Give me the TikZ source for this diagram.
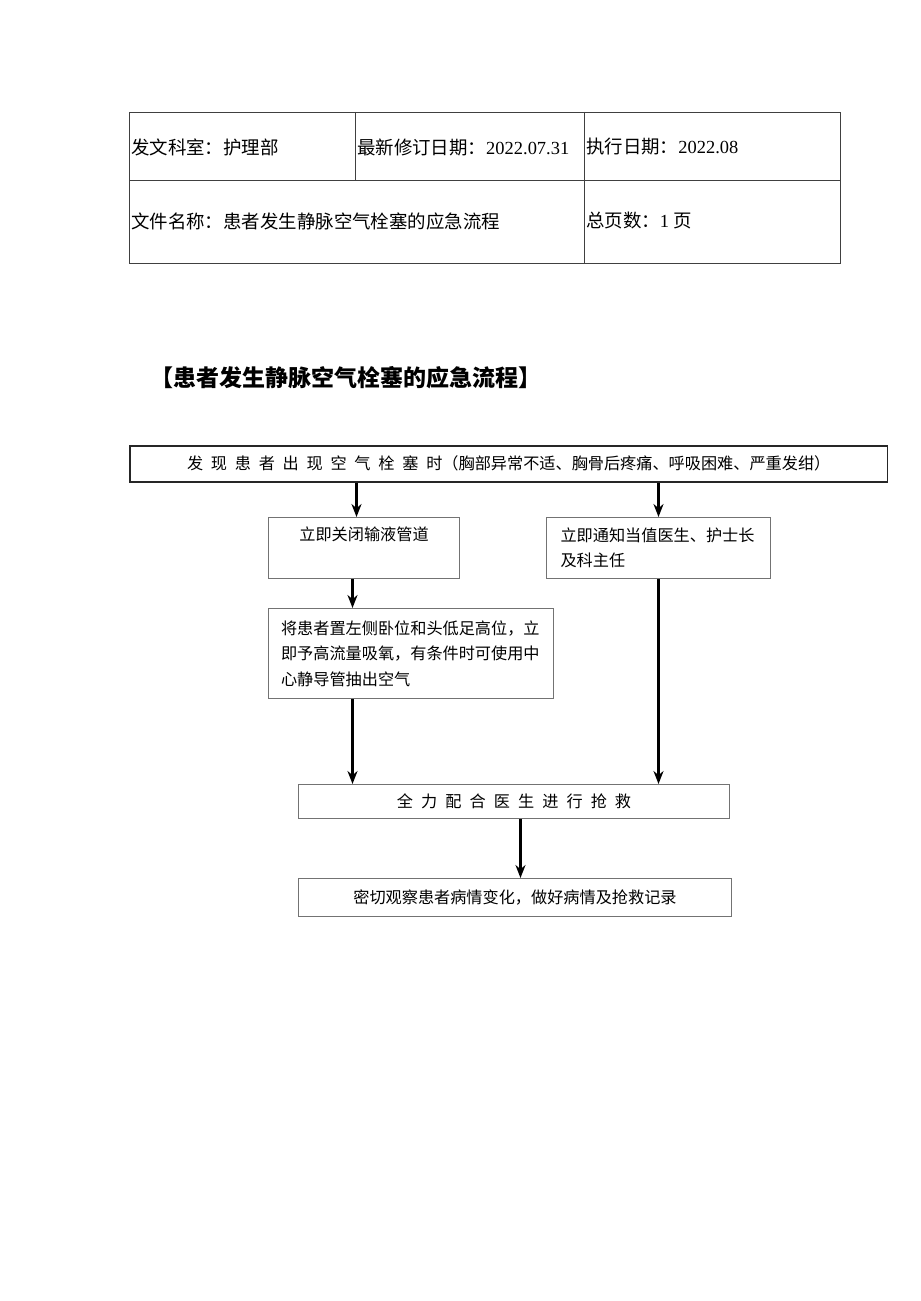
\documentclass[tikz,border=0pt]{standalone}
\usepackage{fontspec}
\setmainfont{Noto Sans CJK SC}
\newfontfamily\latinfont{Liberation Serif}
\usetikzlibrary{arrows.meta, calc}

\begin{document}
\begin{tikzpicture}[
    x=0.02cm, y=-0.02cm,
    cell/.style={anchor=west, inner sep=1pt,
                 font=\fontsize{10.5pt}{13pt}\selectfont},
    rule/.style={line width=0.5pt, black!75},
    box/.style={draw=black!55, line width=0.6pt, anchor=north west,
                align=center, inner sep=0pt,
                font=\fontsize{9.2pt}{14.5pt}\selectfont},
    arr/.style={-{Stealth[length=0.26cm, width=0.2cm]}, line width=1.3pt},
  ]
  \useasboundingbox (0,0) rectangle (920,1301);

  % Header table
  \draw[rule] (129,112) rectangle (840,263);
  \draw[rule] (129,180) -- (840,180);
  \draw[rule] (355,112) -- (355,180);
  \draw[rule] (584,112) -- (584,263);
  \node[cell] (dept) at (129,147) {发文科室：护理部};
  \node[cell] (revised) at (355,147) {最新修订日期：{\latinfont 2022.07.31}};
  \node[cell] (exec) at (584,147) {执行日期：{\latinfont 2022.08}};
  \node[cell] (fname) at (129,221) {文件名称：患者发生静脉空气栓塞的应急流程};
  \node[cell] (pages) at (584,221) {总页数：{\latinfont 1} 页};

  % Title
  \node[anchor=west, inner sep=0pt,
        font=\fontsize{13.1pt}{15pt}\selectfont\bfseries]
       (title) at (150,378) {【患者发生静脉空气栓塞的应急流程】};

  % Row 1: discovery
  \node[box, draw=black!85, line width=0.9pt, minimum width=15.16cm,
        minimum height=0.72cm] (found) at (129,445)
       {{\addfontfeature{LetterSpace=48}发现患者出现空气栓塞时}（胸部异常不适、胸骨后疼痛、呼吸困难、严重发绀）};

  % Row 2: first actions
  \node[box, minimum width=3.82cm, minimum height=1.22cm,
        text depth=0.56cm] (close) at (268,517) {立即关闭输液管道};
  \node[box, align=left, text width=3.92cm, inner xsep=0.28cm,
        minimum width=4.48cm, minimum height=1.22cm] (notify) at (546,517)
       {立即通知当值医生、护士长\\及科主任};

  % Row 3: positioning
  \node[box, align=left, text width=5.2cm, inner xsep=0.25cm,
        minimum width=5.7cm, minimum height=1.8cm] (position) at (268,608)
       {将患者置左侧卧位和头低足高位，立\\即予高流量吸氧，有条件时可使用中\\心静导管抽出空气};

  % Row 4: rescue + record
  \node[box, minimum width=8.62cm, minimum height=0.68cm] (rescue) at (298,784)
       {{\addfontfeature{LetterSpace=50}全力配合医生进行抢救}};
  \node[box, minimum width=8.66cm, minimum height=0.76cm] (record) at (298,878)
       {密切观察患者病情变化，做好病情及抢救记录};

  % Arrows
  \draw[arr] ([xshift=-0.15cm]close.north |- found.south) -- ([xshift=-0.15cm]close.north);
  \draw[arr] (notify.north |- found.south) -- (notify.north);
  \draw[arr] ([xshift=-0.23cm]close.south) -- ([xshift=-0.23cm]close.south |- position.north);
  \draw[arr] ([xshift=-1.17cm]position.south) -- ([xshift=-1.17cm]position.south |- rescue.north);
  \draw[arr] (notify.south) -- (notify.south |- rescue.north);
  \draw[arr] ([xshift=0.13cm]rescue.south) -- ([xshift=0.13cm]rescue.south |- record.north);
\end{tikzpicture}
\end{document}
